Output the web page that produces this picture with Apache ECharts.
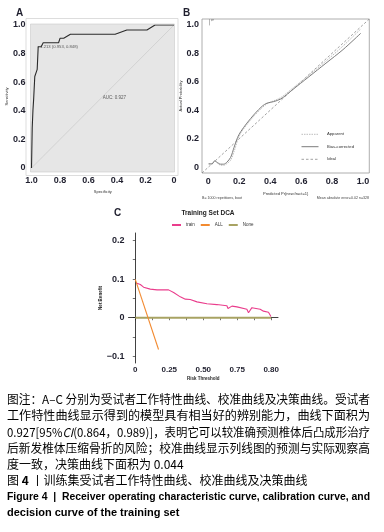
<!DOCTYPE html>
<html><head><meta charset="utf-8">
<script src="https://cdn.jsdelivr.net/npm/echarts@6/dist/echarts.min.js"></script>
<style>html,body{margin:0;padding:0;background:#fff}#c{width:384px;height:532px}</style>
</head><body><div id="c"></div>
<script>
// ---------- Panel A : ROC ----------
const rocSpecificity = [1.0, 0.995, 0.995, 0.99, 0.985, 0.977, 0.96, 0.953, 0.932, 0.918, 0.81, 0.80, 0.774, 0.727, 0.413, 0.331, 0.19, 0.133, 0.0];
const rocSensitivity = [0.0, 0.0, 0.28, 0.40, 0.48, 0.64, 0.69, 0.848, 0.848, 0.876, 0.876, 0.907, 0.907, 0.935, 0.935, 0.965, 0.965, 1.0, 1.0];
const rocBestPoint = [0.953, 0.848];
const rocBestLabel = '1.213 (0.953, 0.848)';
const rocAucPoint = [0.5, 0.49];
const rocAucLabel = 'AUC: 0.927';
const rocDiagonal = [[1, 0], [0, 1]];

// ---------- Panel B : calibration ----------
const calBiasX = [0.003, 0.025, 0.042, 0.06, 0.08, 0.10, 0.12, 0.145, 0.167, 0.19, 0.21, 0.25, 0.30, 0.35, 0.38, 0.42, 0.47, 0.54, 0.65, 0.76, 0.87, 0.985];
const calBiasY = [0.024, 0.024, 0.045, 0.033, 0.022, 0.022, 0.035, 0.07, 0.14, 0.21, 0.25, 0.31, 0.375, 0.43, 0.45, 0.46, 0.48, 0.54, 0.635, 0.73, 0.825, 0.94];
const calAppX = [0.003, 0.025, 0.042, 0.06, 0.08, 0.10, 0.12, 0.145, 0.167, 0.19, 0.21, 0.25, 0.30, 0.35, 0.38, 0.42, 0.47, 0.54, 0.65, 0.76, 0.87, 0.985];
const calAppY = [0.024, 0.024, 0.045, 0.028, 0.015, 0.014, 0.025, 0.05, 0.11, 0.19, 0.24, 0.30, 0.365, 0.42, 0.445, 0.465, 0.49, 0.55, 0.645, 0.745, 0.85, 0.97];
const calIdeal = [[-0.04, -0.04], [1.04, 1.04]];
const rugX = [0.008, 0.018, 0.026, 0.034];
const rugLen = [0.045, 0.015, 0.012, 0.01];
const calTicks = [0, 0.2, 0.4, 0.6, 0.8, 1.0];
const calLegendNames = ['Apparent', 'Bias-corrected', 'Ideal'];

// ---------- Panel C : DCA ----------
const dcaTrainX = [0.012, 0.037, 0.061, 0.11, 0.16, 0.208, 0.245, 0.282, 0.331, 0.368, 0.38, 0.404, 0.454, 0.527, 0.60, 0.674, 0.682, 0.711, 0.748, 0.821, 0.833, 0.858, 0.919, 0.943, 0.98, 0.998];
const dcaTrainY = [0.089, 0.086, 0.079, 0.074, 0.072, 0.072, 0.072, 0.065, 0.054, 0.048, 0.053, 0.047, 0.041, 0.036, 0.034, 0.031, 0.024, 0.030, 0.028, 0.022, 0.013, 0.026, 0.022, 0.017, 0.014, 0.003];
const dcaAllX = [0, 0.171];
const dcaAllY = [0.099, -0.082];
const dcaNoneX = [0, 1];
const dcaNoneY = [0, 0];
const dcaXTickPos = [0, 0.25, 0.5, 0.75, 1.0];
const dcaXTickLabels = ['0', '0.25', '0.50', '0.75', '0.80'];
const dcaYTicks = [-0.1, 0, 0.1, 0.2];

// ---------- captions ----------
const captionLines = [
  [{t:'图注：A–C 分别为受试者工作特性曲线、校准曲线及决策曲线。受试者'}],
  [{t:'工作特性曲线显示得到的模型具有相当好的辨别能力，曲线下面积为'}],
  [{t:'0.927[95%'}, {t:'CI', i:1}, {t:'(0.864，0.989)]，表明它可以较准确预测椎体后凸成形治疗'}],
  [{t:'后新发椎体压缩骨折的风险；校准曲线显示列线图的预测与实际观察高'}],
  [{t:'度一致，决策曲线下面积为 0.044'}],
  [{t:'图 '}, {t:'4', b:1}, {t:' 丨训练集受试者工作特性曲线、校准曲线及决策曲线'}],
  [{t:'Figure 4  |  Receiver operating characteristic curve, calibration curve, and', b:1, en:1}],
  [{t:'decision curve of the training set', b:1, en:1}]
];

const zip = (a, b) => a.map((v, i) => [v, b[i]]);
const lblFont = {fontFamily: 'Liberation Sans', fontWeight: 'bold', fontSize: 9, color: '#1f1f2e'};
const fmt1 = v => (v === 0 ? '0' : v.toFixed(1));

const chart = echarts.init(document.getElementById('c'), null, {renderer: 'canvas', width: 384, height: 532});

// caption layout helpers
const cnFamily = '"Noto Sans CJK SC"';
const enFamily = '"Liberation Sans Narrow", "Liberation Sans"';
const ctx = document.createElement('canvas').getContext('2d');
const capY = [399.5, 415.5, 432, 448.5, 464.5, 480.5, 497, 513];
const capTarget = [363, 363, 363, 363, null, null, 363, null];
const capGraphics = [];
captionLines.forEach((segs, li) => {
  const isEn = segs[0].en;
  const size = isEn ? 11 : 12;
  let total = 0;
  const rich = {};
  let str = '';
  segs.forEach((s, si) => {
    const fam = isEn ? enFamily : cnFamily;
    const weight = s.b ? 'bold' : 'normal';
    const style = s.i ? 'italic' : 'normal';
    ctx.font = `${style} ${weight} ${size}px ${fam}`;
    total += ctx.measureText(s.t).width;
    rich['s' + si] = {fontFamily: fam, fontWeight: weight, fontStyle: style, fontSize: size, color: '#231f20'};
    str += '{s' + si + '|' + s.t + '}';
  });
  const sx = capTarget[li] ? capTarget[li] / total : 1;
  capGraphics.push({
    type: 'text', x: 7, y: capY[li], scaleX: sx, originX: 0,
    style: {text: str, rich: rich, align: 'left', verticalAlign: 'middle'}
  });
});

// calibration legend (drawn as lines + labels)
const calLegendStyles = [
  {stroke: '#b5b5b5', lineWidth: 0.9, lineDash: [1.5, 1]},
  {stroke: '#7d7d7d', lineWidth: 1, lineDash: null},
  {stroke: '#7a7a7a', lineWidth: 0.7, lineDash: [2.5, 2]}
];
const calLegendY = [134.3, 146.7, 159.3];
const calLegendGraphics = [];
calLegendNames.forEach((n, i) => {
  calLegendGraphics.push({type: 'line', shape: {x1: 301.5, y1: calLegendY[i], x2: 318.5, y2: calLegendY[i]}, style: calLegendStyles[i]});
  calLegendGraphics.push({type: 'text', x: 327, y: calLegendY[i], style: {text: n, fontSize: 4.2, fill: '#333', verticalAlign: 'middle'}});
});

const option = {
  animation: false,
  backgroundColor: '#ffffff',
  title: {text: 'Training Set DCA', left: 203, top: 205, textAlign: 'center',
    textStyle: {fontFamily: 'Liberation Sans', fontWeight: 'bold', fontSize: 6.5, color: '#222'}},
  grid: [
    {left: 31.5, top: 25, width: 142.5, height: 143},
    {left: 202, top: 19, width: 167.3, height: 154, show: true, borderColor: '#9a9a9a', borderWidth: 0.8, backgroundColor: '#fff'},
    {left: 128.5, top: 233, width: 149.5, height: 130}
  ],
  legend: [
    {data: ['train', 'ALL', 'None'], orient: 'horizontal', left: 171, top: 222.5, itemWidth: 9, itemHeight: 3, itemGap: 5, padding: 0,
      itemStyle: {opacity: 0},
      textStyle: {fontSize: 4.5, color: '#333'}}
  ],
  xAxis: [
    {gridIndex: 0, type: 'value', inverse: true, min: 0, max: 1, interval: 0.2,
      axisLine: {show: false}, axisTick: {show: false}, splitLine: {show: false},
      axisLabel: Object.assign({margin: 8, formatter: fmt1}, lblFont),
      name: 'Specificity', nameLocation: 'middle', nameGap: 22, nameTextStyle: {fontSize: 4, color: '#333'}},
    {gridIndex: 1, type: 'value', min: -0.04, max: 1.04,
      axisLine: {show: false}, axisTick: {show: false}, splitLine: {show: false},
      axisLabel: Object.assign({margin: 4, customValues: calTicks, formatter: fmt1}, lblFont),
      name: 'Predicted Pr{new.fract=1}', nameLocation: 'middle', nameGap: 19, nameTextStyle: {fontSize: 4, color: '#333'}},
    {gridIndex: 2, type: 'value', min: -0.05, max: 1.05,
      axisLine: {show: true, lineStyle: {color: '#111', width: 0.8}},
      axisTick: {show: true, length: 2.5, customValues: [0, 0.125, 0.25, 0.375, 0.5, 0.625, 0.75, 0.875, 1.0], lineStyle: {color: '#111', width: 0.6}},
      splitLine: {show: false},
      axisLabel: Object.assign({margin: 3, customValues: dcaXTickPos,
        formatter: v => dcaXTickLabels[dcaXTickPos.findIndex(p => Math.abs(p - v) < 1e-6)]}, lblFont, {fontSize: 8}),
      name: 'Risk Threshold', nameLocation: 'middle', nameGap: 13, nameTextStyle: {fontSize: 4.5, fontWeight: 'bold', color: '#222'}}
  ],
  yAxis: [
    {gridIndex: 0, type: 'value', min: 0, max: 1, interval: 0.2,
      axisLine: {show: false}, axisTick: {show: false}, splitLine: {show: false},
      axisLabel: Object.assign({margin: 6, formatter: fmt1}, lblFont),
      name: 'Sensitivity', nameLocation: 'middle', nameGap: 19.5, nameTextStyle: {fontSize: 4, color: '#333'}},
    {gridIndex: 1, type: 'value', min: -0.04, max: 1.04,
      axisLine: {show: false}, axisTick: {show: false}, splitLine: {show: false},
      axisLabel: Object.assign({margin: 3, customValues: calTicks, formatter: fmt1}, lblFont),
      name: 'Actual Probability', nameLocation: 'middle', nameGap: 18, nameTextStyle: {fontSize: 4, color: '#333'}},
    {gridIndex: 2, type: 'value', min: -0.117, max: 0.219,
      axisLine: {show: true, lineStyle: {color: '#111', width: 0.8}},
      axisTick: {show: true, length: 2.5, customValues: [-0.1, -0.05, 0, 0.05, 0.1, 0.15, 0.2], lineStyle: {color: '#111', width: 0.6}},
      splitLine: {show: false},
      axisLabel: Object.assign({margin: 4, customValues: dcaYTicks,
        formatter: v => (Math.abs(v) < 1e-9 ? '0' : (v < 0 ? '\u2212' : '') + Math.abs(v).toFixed(1))}, lblFont),
      name: 'Net Benefit', nameLocation: 'middle', nameGap: 17, nameTextStyle: {fontSize: 4.5, fontWeight: 'bold', color: '#222'}}
  ],
  series: [
    {name: 'ROC diagonal', type: 'line', xAxisIndex: 0, yAxisIndex: 0, data: rocDiagonal, symbol: 'none',
      lineStyle: {color: '#c4c4c4', width: 0.6}, silent: true, z: 2},
    {name: 'ROC', type: 'line', xAxisIndex: 0, yAxisIndex: 0, data: zip(rocSpecificity, rocSensitivity), symbol: 'none',
      lineStyle: {color: '#2b2b2b', width: 1.1}, z: 3},
    {name: 'Best threshold', type: 'scatter', xAxisIndex: 0, yAxisIndex: 0, data: [rocBestPoint], symbolSize: 1,
      itemStyle: {color: '#333'},
      label: {show: true, position: 'right', distance: 1.5, formatter: rocBestLabel, fontSize: 4.2, color: '#333'}, z: 4},
    {name: 'AUC', type: 'scatter', xAxisIndex: 0, yAxisIndex: 0, data: [rocAucPoint], symbolSize: 0,
      label: {show: true, position: 'right', distance: 0, formatter: rocAucLabel, fontSize: 4.5, color: '#333'}, z: 4},

    {name: 'Ideal', type: 'line', xAxisIndex: 1, yAxisIndex: 1, data: calIdeal, symbol: 'none',
      itemStyle: {color: '#7a7a7a'}, lineStyle: {color: '#7a7a7a', width: 0.7, type: [2.5, 2]}},
    {name: 'Apparent', type: 'line', xAxisIndex: 1, yAxisIndex: 1, data: zip(calAppX, calAppY), symbol: 'none', smooth: 0.3,
      itemStyle: {color: '#b5b5b5'}, lineStyle: {color: '#b5b5b5', width: 0.9, type: [1.5, 1]}},
    {name: 'Bias-corrected', type: 'line', xAxisIndex: 1, yAxisIndex: 1, data: zip(calBiasX, calBiasY), symbol: 'none', smooth: 0.3,
      itemStyle: {color: '#7d7d7d'}, lineStyle: {color: '#7d7d7d', width: 1}},
    {name: 'rug', type: 'lines', coordinateSystem: 'cartesian2d', xAxisIndex: 1, yAxisIndex: 1,
      data: rugX.map((x, i) => ({coords: [[x, 1.04], [x, 1.04 - rugLen[i]]]})),
      lineStyle: {color: '#888', width: 0.6, opacity: 1}},

    {name: 'None', type: 'line', xAxisIndex: 2, yAxisIndex: 2, data: zip(dcaNoneX, dcaNoneY), symbol: 'none',
      lineStyle: {color: '#a8a363', width: 1.8}, itemStyle: {color: '#a8a363'}},
    {name: 'ALL', type: 'line', xAxisIndex: 2, yAxisIndex: 2, data: zip(dcaAllX, dcaAllY), symbol: 'none',
      lineStyle: {color: '#f28a30', width: 1.1}, itemStyle: {color: '#f28a30'}},
    {name: 'train', type: 'line', xAxisIndex: 2, yAxisIndex: 2, data: zip(dcaTrainX, dcaTrainY), symbol: 'none',
      lineStyle: {color: '#ea3d8c', width: 1.1}, itemStyle: {color: '#ea3d8c'}}
  ],
  graphic: [
    {type: 'rect', shape: {x: 26, y: 18.5, width: 152, height: 157}, style: {fill: '#fff', stroke: '#d4d4d4', lineWidth: 0.8}, z: -20},
    {type: 'rect', shape: {x: 30.5, y: 24, width: 144, height: 148}, style: {fill: '#e6e6e6', stroke: '#c9c9c9', lineWidth: 0.6}, z: -19},
    {type: 'text', x: 16, y: 13, style: {text: 'A', fontFamily: 'Liberation Sans', fontWeight: 'bold', fontSize: 10, fill: '#1f1f2e', verticalAlign: 'middle'}},
    {type: 'text', x: 183, y: 13, style: {text: 'B', fontFamily: 'Liberation Sans', fontWeight: 'bold', fontSize: 10, fill: '#1f1f2e', verticalAlign: 'middle'}},
    {type: 'text', x: 114, y: 213, style: {text: 'C', fontFamily: 'Liberation Sans', fontWeight: 'bold', fontSize: 10, fill: '#1f1f2e', verticalAlign: 'middle'}},
    {type: 'text', x: 202, y: 198, style: {text: 'B= 1000 repetitions, boot', fontSize: 3.6, fill: '#444', verticalAlign: 'middle'}},
    {type: 'text', x: 369, y: 198, style: {text: 'Mean absolute error=0.02 n=328', fontSize: 3.6, fill: '#444', align: 'right', verticalAlign: 'middle'}}
  ].concat(calLegendGraphics, capGraphics)
};
chart.setOption(option);
</script>
</body></html>
